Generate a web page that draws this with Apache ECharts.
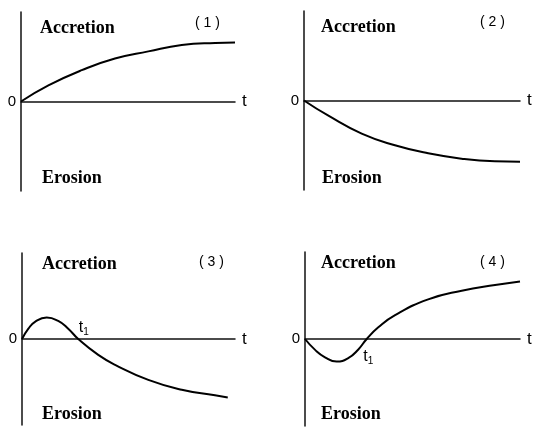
<!DOCTYPE html>
<html>
<head>
<meta charset="utf-8">
<script src="https://cdn.jsdelivr.net/npm/echarts@6/dist/echarts.min.js"></script>
<style>
  html, body { margin: 0; padding: 0; background: #fff; }
  #chart { width: 534px; height: 427px; }
</style>
</head>
<body>
<div id="chart"></div>
<script>
// values (t from 0 to 10, level from -10 to 10)
const t1 = [ 0, 1.28, 2.84, 4.39, 5.95, 7.51, 9.07, 10 ];
const v1 = [ 0, 1.8, 3.5, 4.8, 5.6, 6.3, 6.55, 6.6 ];

const t2 = [ 0, 1.13, 2.67, 4.21, 5.75, 7.30, 8.84, 10 ];
const v2 = [ 0, -1.7, -3.7, -5.0, -5.9, -6.5, -6.8, -6.85 ];

const t3 = [ 0, 0.30, 0.61, 1.16, 1.70, 2.17, 2.64, 3.58, 4.37, 5.93, 7.50, 9.06, 9.66 ];
const v3 = [ 0, 1.2, 2.0, 2.5, 2.1, 1.2, 0, -1.85, -3.0, -4.75, -5.9, -6.55, -6.8 ];

const t4 = [ 0, 0.47, 0.93, 1.47, 2.01, 2.48, 2.87, 3.41, 4.19, 5.73, 7.29, 8.84, 10 ];
const v4 = [ 0, -1.25, -2.1, -2.6, -2.2, -1.2, 0, 1.35, 2.75, 4.55, 5.55, 6.2, 6.6 ];

// where curves (3) and (4) cross zero
const crossings = [ null, null, 2.64, 2.87 ];

const panelTags = [ '( 1 )', '( 2 )', '( 3 )', '( 4 )' ];
const upperLabel = 'Accretion';
const lowerLabel = 'Erosion';
const axisName = 't';
const originLabel = '0';

( function ()
{
  let myChart = echarts.init( document.getElementById( 'chart' ) );

  let curves = [ [ t1, v1 ], [ t2, v2 ], [ t3, v3 ], [ t4, v4 ] ];

  // pixel layout of each small sketch
  let layout = [
    { grid: { left: 21, top: 12, width: 214, height: 179 }, up: [ 40, 28 ], down: [ 42, 178 ], tag: [ 195, 23 ], t1: null },
    { grid: { left: 304, top: 11, width: 216, height: 179 }, up: [ 321, 27.5 ], down: [ 322, 178 ], tag: [ 480, 22 ], t1: null },
    { grid: { left: 22, top: 253, width: 213, height: 172 }, up: [ 42, 264 ], down: [ 42, 414 ], tag: [ 199, 262 ], t1: [ 0, -11 ] },
    { grid: { left: 305, top: 252, width: 215, height: 174 }, up: [ 321, 263.5 ], down: [ 321, 414 ], tag: [ 480, 262 ], t1: [ -4, 18 ] }
  ];

  let axisStyle = { color: '#111', width: 1.5 };
  let serif = '"Liberation Serif", "DejaVu Serif", serif';
  let sans = '"Liberation Sans", "DejaVu Sans", sans-serif';

  let grid = [], xAxis = [], yAxis = [], series = [], graphic = [];

  layout.forEach( function ( p, i )
  {
    grid.push( p.grid );
    xAxis.push( {
      type: 'value', gridIndex: i, min: 0, max: 10,
      axisLine: { show: true, onZero: true, lineStyle: axisStyle },
      axisTick: { show: false },
      axisLabel: { show: false },
      splitLine: { show: false },
      name: axisName, nameLocation: 'end', nameGap: 7,
      nameTextStyle: { color: '#000', fontSize: 17, fontFamily: sans }
    } );
    yAxis.push( {
      type: 'value', gridIndex: i, min: -10, max: 10, interval: 10,
      axisLine: { show: true, lineStyle: axisStyle },
      axisTick: { show: false },
      splitLine: { show: false },
      axisLabel: {
        margin: 5, color: '#000', fontSize: 15, fontFamily: sans,
        formatter: function ( v ) { return v === 0 ? originLabel : ''; }
      }
    } );

    let ts = curves[ i ][ 0 ], vs = curves[ i ][ 1 ];
    let s = {
      type: 'line', xAxisIndex: i, yAxisIndex: i,
      data: ts.map( function ( t, k ) { return [ t, vs[ k ] ]; } ),
      smooth: true, showSymbol: false,
      lineStyle: { color: '#000', width: 2 }
    };
    if ( crossings[ i ] !== null )
    {
      s.markPoint = {
        symbol: 'circle', symbolSize: 1,
        itemStyle: { color: 'rgba(0,0,0,0)' },
        data: [ { coord: [ crossings[ i ], 0 ] } ],
        label: {
          show: true, position: 'right', distance: 0, offset: p.t1,
          formatter: '{a|t}{b|1}',
          rich: {
            a: { fontSize: 16, fontFamily: sans, color: '#000', lineHeight: 18 },
            b: { fontSize: 10, fontFamily: sans, color: '#000', lineHeight: 14, verticalAlign: 'bottom' }
          }
        }
      };
    }
    series.push( s );

    graphic.push(
      { type: 'text', x: p.up[ 0 ], y: p.up[ 1 ], style: { text: upperLabel, font: 'bold 18px ' + serif, fill: '#000', verticalAlign: 'middle' } },
      { type: 'text', x: p.down[ 0 ], y: p.down[ 1 ], style: { text: lowerLabel, font: 'bold 18px ' + serif, fill: '#000', verticalAlign: 'middle' } },
      { type: 'text', x: p.tag[ 0 ], y: p.tag[ 1 ], style: { text: panelTags[ i ], font: '14px ' + sans, fill: '#000', verticalAlign: 'middle' } }
    );
  } );

  let option = {
    backgroundColor: '#fff',
    animation: false,
    grid: grid,
    xAxis: xAxis,
    yAxis: yAxis,
    series: series,
    graphic: graphic
  };
  myChart.setOption( option );
  window.addEventListener( "resize", function ()
  {
    myChart.resize();
  } );
} )();
</script>
</body>
</html>
